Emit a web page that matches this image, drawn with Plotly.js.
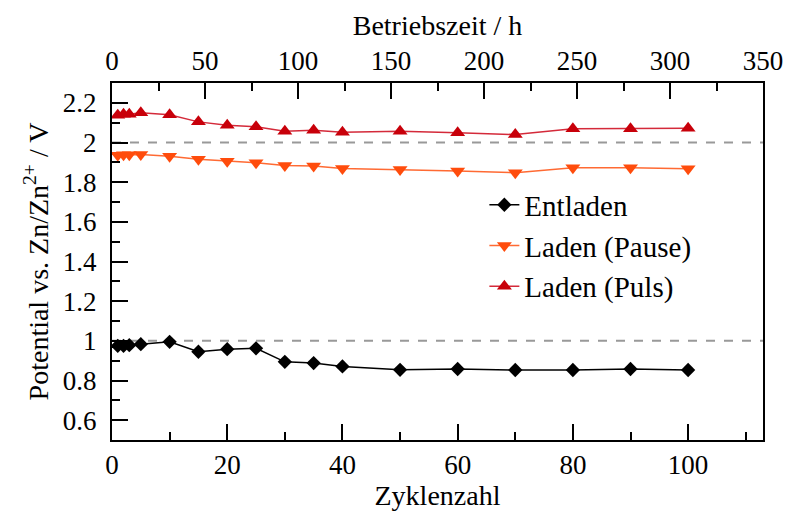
<!DOCTYPE html>
<html>
<head>
<meta charset="utf-8">
<script src="https://cdn.plot.ly/plotly-3.0.1.min.js"></script>
<style>
  #chart svg text, #chart svg tspan { font-family: "Liberation Serif", "Times New Roman", serif !important; }
</style>
</head>
<body style="margin:0">
<div id="chart"></div>
<script>
// Cycle numbers (Zyklenzahl)
const cycles = [1, 2, 3, 5, 10, 15, 20, 25, 30, 35, 40, 50, 60, 70, 80, 90, 100];
// Potentials vs. Zn/Zn2+ in V
const entladen = [0.975, 0.975, 0.978, 0.983, 0.995, 0.945, 0.958, 0.962, 0.894, 0.888, 0.871, 0.854, 0.858, 0.853, 0.853, 0.858, 0.853];
const ladenPause = [1.936, 1.938, 1.938, 1.940, 1.931, 1.915, 1.906, 1.898, 1.884, 1.881, 1.869, 1.864, 1.856, 1.848, 1.873, 1.873, 1.868];
const ladenPuls = [2.138, 2.143, 2.143, 2.150, 2.140, 2.104, 2.087, 2.079, 2.057, 2.062, 2.052, 2.057, 2.049, 2.040, 2.069, 2.069, 2.072];
const seriesNames = ['Entladen', 'Laden (Pause)', 'Laden (Puls)'];
const refLevels = [1, 2];
// axis ranges
const xRange = [0, 113];
const x2Range = [0, 350];
const yRange = [0.5, 2.3];

const FONT = 'Liberation Serif';

const traces = [
  {x: cycles, y: entladen, name: seriesNames[0], mode: 'lines+markers',
   line: {color: 'black', width: 1.5}, marker: {symbol: 'diamond', size: 11, color: 'black'}},
  {x: cycles, y: ladenPause, name: seriesNames[1], mode: 'lines+markers',
   line: {color: '#ff6a33', width: 1.5}, marker: {symbol: 'triangle-down', size: 13, color: '#ff4c0c'}},
  {x: cycles, y: ladenPuls, name: seriesNames[2], mode: 'lines+markers',
   line: {color: '#d42a3a', width: 1.5}, marker: {symbol: 'triangle-up', size: 13, color: '#c8000a'}},
  {x: [], y: [], xaxis: 'x2', yaxis: 'y', showlegend: false, hoverinfo: 'skip', mode: 'markers'}
];

const shapes = refLevels.map(v => ({
  type: 'line', xref: 'paper', yref: 'y', x0: 0, x1: 1, y0: v, y1: v,
  line: {color: '#999999', width: 2, dash: 'dash'}, layer: 'below'
}));

function axisBase() {
  return {
    showgrid: false, zeroline: false, showline: true, linecolor: 'black', linewidth: 2,
    ticks: 'inside', ticklen: 16, tickwidth: 2, tickcolor: 'black',
    tickfont: {family: FONT, size: 27, color: 'black'}
  };
}

const layout = {
  width: 788, height: 521,
  margin: {l: 112, r: 25, t: 83, b: 81},
  font: {family: FONT, size: 27, color: 'black'},
  showlegend: true,
  legend: {x: 0.572, y: 0.73, xanchor: 'left', yanchor: 'top', bgcolor: 'rgba(0,0,0,0)',
           font: {family: FONT, size: 29, color: 'black'}},
  xaxis: Object.assign(axisBase(), {
    range: xRange, dtick: 20, tick0: 0,
    minor: {dtick: 10, ticks: 'inside', ticklen: 8, tickwidth: 2, tickcolor: 'black'},
    title: {text: 'Zyklenzahl', font: {family: FONT, size: 28, color: 'black'}, standoff: 2}
  }),
  xaxis2: Object.assign(axisBase(), {
    overlaying: 'x', side: 'top', anchor: 'y', range: x2Range, dtick: 50, tick0: 0,
    minor: {dtick: 25, ticks: 'inside', ticklen: 8, tickwidth: 2, tickcolor: 'black'},
    title: {text: 'Betriebszeit / h', font: {family: FONT, size: 28, color: 'black'}, standoff: 2}
  }),
  yaxis: Object.assign(axisBase(), {
    range: yRange, dtick: 0.2, tick0: 0.6, mirror: true,
    minor: {dtick: 0.1, ticks: 'inside', ticklen: 8, tickwidth: 2, tickcolor: 'black'},
    ticklabelstandoff: 8,
    title: {text: 'Potential vs. Zn/Zn<sup>2+</sup> / V', font: {family: FONT, size: 28, color: 'black'}, standoff: 6}
  }),
  shapes: shapes
};

Plotly.newPlot('chart', traces, layout, {staticPlot: true});
</script>
</body>
</html>
